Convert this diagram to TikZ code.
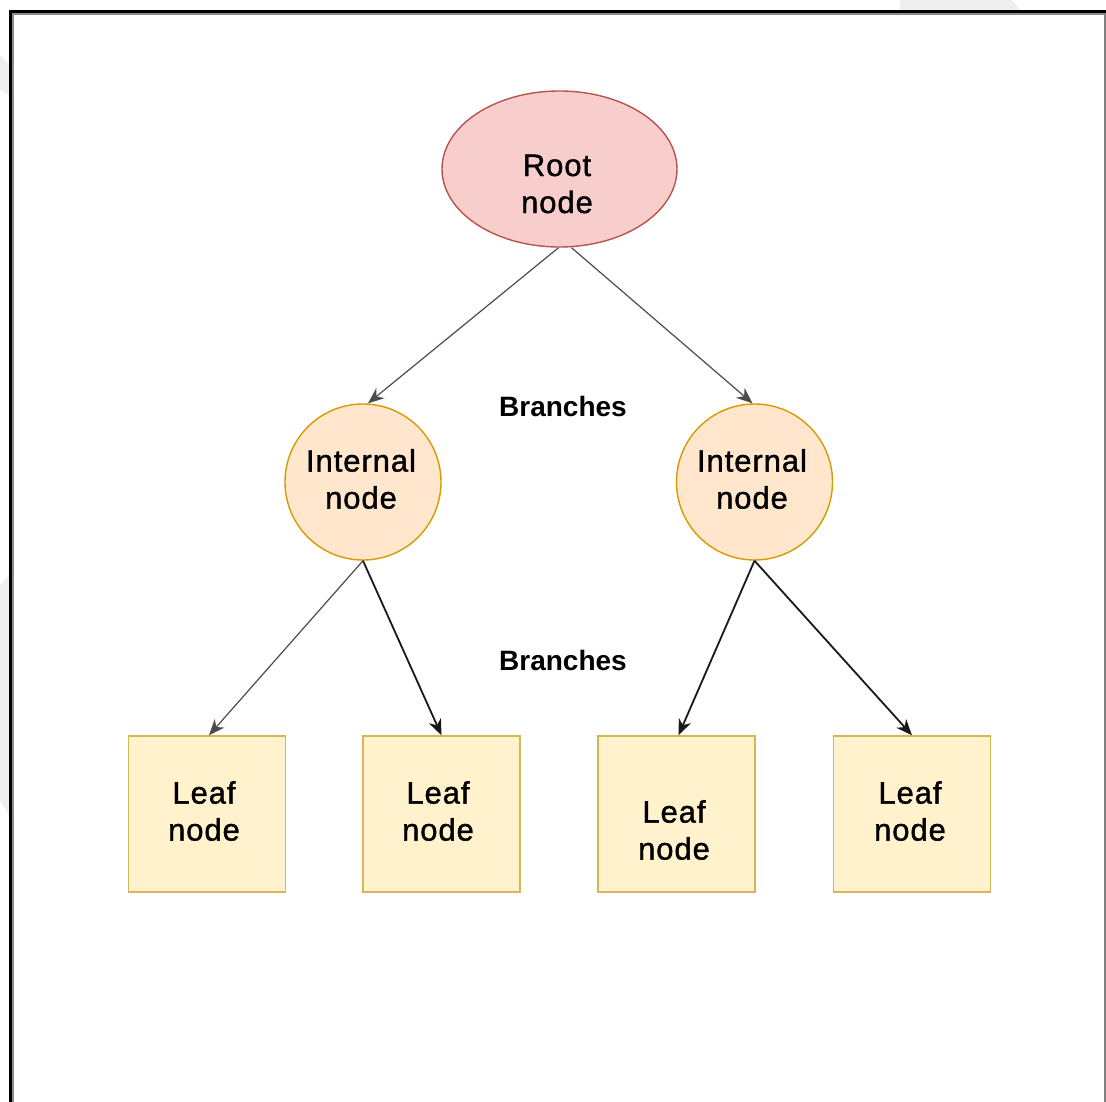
\documentclass[tikz,border=0pt]{standalone}
\usepackage{fontspec}
\setmainfont{Liberation Sans}
\newfontfamily\nodefont[LetterSpace=3,FakeBold=1.2]{Liberation Sans}
\usetikzlibrary{arrows.meta,shapes.geometric}
\definecolor{rootfill}{HTML}{F8CECC}
\definecolor{rootdraw}{HTML}{B85450}
\definecolor{intfill}{HTML}{FFE6CC}
\definecolor{intdraw}{HTML}{D79B00}
\definecolor{leaffill}{HTML}{FFF2CC}
\definecolor{leafdraw}{HTML}{D6B656}
\definecolor{faint}{HTML}{EFEFEF}
\tikzset{
  rootshape/.style={ellipse, draw=rootdraw, fill=rootfill, line width=1.4pt, minimum width=235pt, minimum height=156pt, inner sep=0pt},
  intshape/.style={circle, draw=intdraw, fill=intfill, line width=1.4pt, minimum size=156pt, inner sep=0pt},
  leafshape/.style={rectangle, draw=leafdraw, fill=leaffill, line width=1.4pt, minimum width=157pt, minimum height=156pt, inner sep=0pt},
  txt/.style={align=center, inner sep=0pt, font=\nodefont\fontsize{31}{37}\selectfont},
  brtxt/.style={inner sep=0pt, font=\bfseries\fontsize{28}{32}\selectfont},
  thinarrow/.style={draw=black!70, line width=1.2pt, -{Stealth[length=16pt,width=13pt,inset=5pt]}},
  darkarrow/.style={draw=black!90, line width=1.8pt, -{Stealth[length=16pt,width=13pt,inset=5pt]}},
}
\begin{document}
\begin{tikzpicture}[x=1pt,y=-1pt]
\useasboundingbox (0,0) rectangle (1106,1102);
\fill[white] (0,0) rectangle (1106,1102);
% faint background shapes
\fill[faint] (900,0) -- (1012,0) -- (1020,10) -- (900,10) -- cycle;
\fill[faint] (0,55) -- (9,65) -- (9,95) -- (0,90) -- cycle;
\fill[faint] (0,585) -- (9,575) -- (9,815) -- (0,800) -- cycle;
% frame
\draw[line width=3pt] (10.5,1102) -- (10.5,12) -- (1106,12);
\draw[line width=1.5pt, black!45] (13,1102) -- (13,14) -- (1106,14);
\draw[line width=2pt, black!50] (1104.5,13) -- (1104.5,1102);

% shapes
\node[rootshape] (root) at (559.5,169) {};
\node[intshape] (il) at (363,482) {};
\node[intshape] (ir) at (754.5,482) {};
\node[leafshape] (l1) at (207,814) {};
\node[leafshape] (l2) at (441.5,814) {};
\node[leafshape] (l3) at (676.5,814) {};
\node[leafshape] (l4) at (912,814) {};

% texts
\node[txt] (troot) at (557,184) {Root\\node};
\node[txt] (til) at (361,479) {Internal\\node};
\node[txt] (tir) at (752,479) {Internal\\node};
\node[txt] (tl1) at (204,811) {Leaf\\node};
\node[txt] (tl2) at (438,811) {Leaf\\node};
\node[txt] (tl3) at (674,830) {Leaf\\node};
\node[txt] (tl4) at (910,811) {Leaf\\node};
\node[brtxt] (b1) at (563,406) {Branches};
\node[brtxt] (b2) at (563,660) {Branches};

% connectors
\draw[thinarrow] ([xshift=-1pt]root.south) -- ([xshift=5pt]il.north);
\draw[thinarrow] ([xshift=12pt]root.south) -- ([xshift=-2pt]ir.north);
\draw[thinarrow] (il.south) -- ([xshift=2pt]l1.north);
\draw[darkarrow] (il.south) -- (l2.north);
\draw[darkarrow] (ir.south) -- ([xshift=2pt]l3.north);
\draw[darkarrow] (ir.south) -- (l4.north);
\end{tikzpicture}
\end{document}
